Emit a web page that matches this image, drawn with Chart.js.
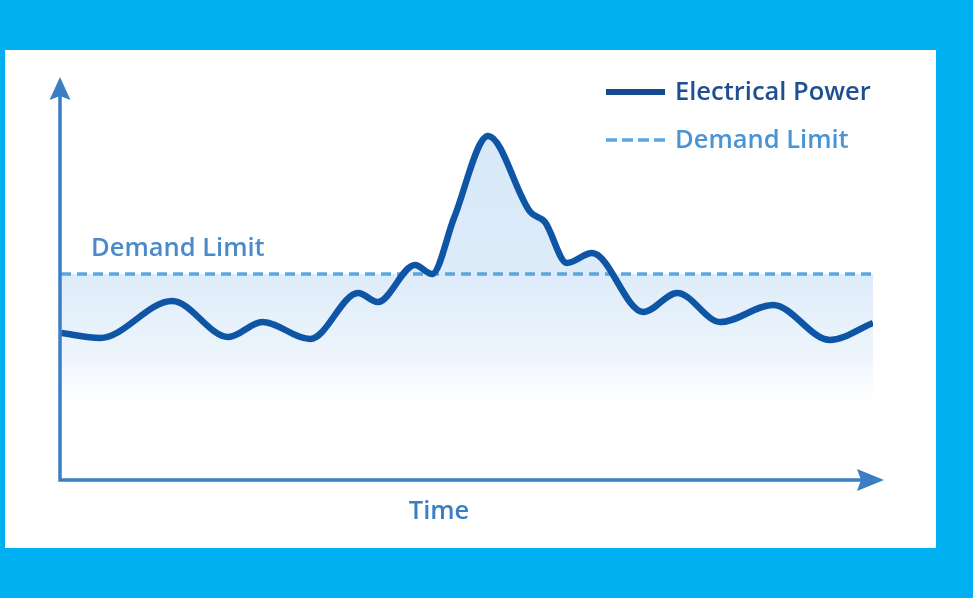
<!DOCTYPE html>
<html>
<head>
<meta charset="utf-8">
<title>Electrical Power vs Demand Limit</title>
<script src="https://cdn.jsdelivr.net/npm/chart.js@4.4.1/dist/chart.umd.min.js"></script>
<style>
  html, body { margin: 0; padding: 0; background: #00B0F0; }
  #wrap { position: absolute; left: 0; top: 0; width: 973px; height: 598px; }
</style>
</head>
<body>
<div id="wrap"><canvas id="chart" width="973" height="598"></canvas></div>
<script>
// Time samples (0..100) and the measured electrical power at each one
const timePoints = [0, 4.8, 13.7, 20.6, 24.8, 30.7, 36.6, 39.0, 43.6, 45.7, 48.4, 52.6,
  57.8, 59.6, 62.3, 65.4, 71.7, 75.9, 81.2, 87.7, 94.7, 100];
const powerValues = [36.75, 35.5, 44.75, 35.75, 39.5, 35.25, 46.75, 44.5, 53.75, 51.5, 65.5, 86,
  67, 64.5, 54.25, 56.75, 42, 46.75, 39.5, 43.75, 35, 39.25];
// Contracted demand limit (constant)
const demandLimit = 51.5;
const limitTimes = [0, 100.5];

// Text shown on the figure
const seriesNames = ['Electrical Power', 'Demand Limit'];
const limitLabel = 'Demand Limit';
const xAxisLabel = 'Time';

const powerData = timePoints.map((t, i) => ({ x: t, y: powerValues[i] }));
const limitData = limitTimes.map(t => ({ x: t, y: demandLimit }));

const FONT = '"Open Sans", "Noto Sans", sans-serif';
const POWER_COLOR = '#0E55A5';
const LIMIT_COLOR = '#5AA6DE';
const AXIS_COLOR = '#3C7EC3';

// Soft blue wash that fades out toward the bottom of the plot
function areaFill(ctx) {
  const chart = ctx.chart;
  const area = chart.chartArea;
  if (!area) return 'rgba(0,0,0,0)';
  const y = chart.scales.y;
  const g = chart.ctx.createLinearGradient(0, y.getPixelForValue(88), 0, y.getPixelForValue(14));
  g.addColorStop(0, 'rgba(214,232,248,1)');
  g.addColorStop(0.5, 'rgba(222,236,249,1)');
  g.addColorStop(0.78, 'rgba(238,245,252,1)');
  g.addColorStop(1, 'rgba(255,255,255,0)');
  return g;
}

// Background panel, axes with arrowheads, legend and labels
const decor = {
  id: 'decor',
  beforeDraw(chart) {
    const c = chart.ctx;
    c.save();
    c.fillStyle = '#00B0F0';
    c.fillRect(0, 0, chart.width, chart.height);
    c.fillStyle = '#FFFFFF';
    c.fillRect(5, 50, 931, 498);
    c.restore();
  },
  afterDatasetsDraw(chart) {
    const c = chart.ctx;
    const xs = chart.scales.x, ys = chart.scales.y;
    const x0 = xs.getPixelForValue(0) - 1;
    const y0 = ys.getPixelForValue(0);
    c.save();
    // axes
    c.strokeStyle = AXIS_COLOR;
    c.fillStyle = AXIS_COLOR;
    c.lineWidth = 3.5;
    c.beginPath();
    c.moveTo(x0, 95);
    c.lineTo(x0, y0);
    c.lineTo(862, y0);
    c.stroke();
    // y arrowhead
    c.beginPath();
    c.moveTo(x0, 77);
    c.lineTo(x0 + 10.5, 100);
    c.lineTo(x0, 96);
    c.lineTo(x0 - 10.5, 100);
    c.closePath();
    c.fill();
    // x arrowhead
    c.beginPath();
    c.moveTo(884, y0);
    c.lineTo(857, y0 - 11);
    c.lineTo(861, y0);
    c.lineTo(857, y0 + 11);
    c.closePath();
    c.fill();

    // legend
    c.lineWidth = 6;
    c.strokeStyle = '#144B8F';
    c.beginPath();
    c.moveTo(606, 92);
    c.lineTo(665, 92);
    c.stroke();
    c.lineWidth = 3.5;
    c.strokeStyle = LIMIT_COLOR;
    c.setLineDash([11, 5]);
    c.beginPath();
    c.moveTo(606, 140);
    c.lineTo(667, 140);
    c.stroke();
    c.setLineDash([]);

    c.textBaseline = 'middle';
    c.textAlign = 'left';
    c.font = '600 25.5px ' + FONT;
    c.fillStyle = '#1D4F91';
    c.fillText(seriesNames[0], 675, 93);
    c.fillStyle = '#4A94D4';
    c.fillText(seriesNames[1], 675, 141);

    // limit annotation
    c.fillStyle = '#4A8ACB';
    c.fillText(limitLabel, 91, 249);

    // x-axis label
    c.textAlign = 'center';
    c.fillStyle = '#3D7EC1';
    c.fillText(xAxisLabel, 439, 512);
    c.restore();
  }
};

new Chart(document.getElementById('chart'), {
  type: 'line',
  data: {
    datasets: [
      {
        label: seriesNames[0],
        data: powerData,
        borderColor: POWER_COLOR,
        borderWidth: 6.5,
        cubicInterpolationMode: 'monotone',
        pointRadius: 0,
        fill: { target: 1, above: areaFill, below: 'rgba(0,0,0,0)' },
        order: 0
      },
      {
        label: seriesNames[1],
        data: limitData,
        borderColor: LIMIT_COLOR,
        borderWidth: 3.5,
        borderDash: [10, 6],
        pointRadius: 0,
        backgroundColor: areaFill,
        fill: 'origin',
        order: 1
      }
    ]
  },
  options: {
    responsive: false,
    animation: false,
    layout: { padding: { left: 61, right: 100, top: 80, bottom: 118 } },
    scales: {
      x: { type: 'linear', min: 0, max: 100, display: false },
      y: { type: 'linear', min: 0, max: 100, display: false }
    },
    plugins: {
      legend: { display: false },
      tooltip: { enabled: false },
      filler: { drawTime: 'beforeDatasetsDraw' }
    }
  },
  plugins: [decor]
});
</script>
</body>
</html>
